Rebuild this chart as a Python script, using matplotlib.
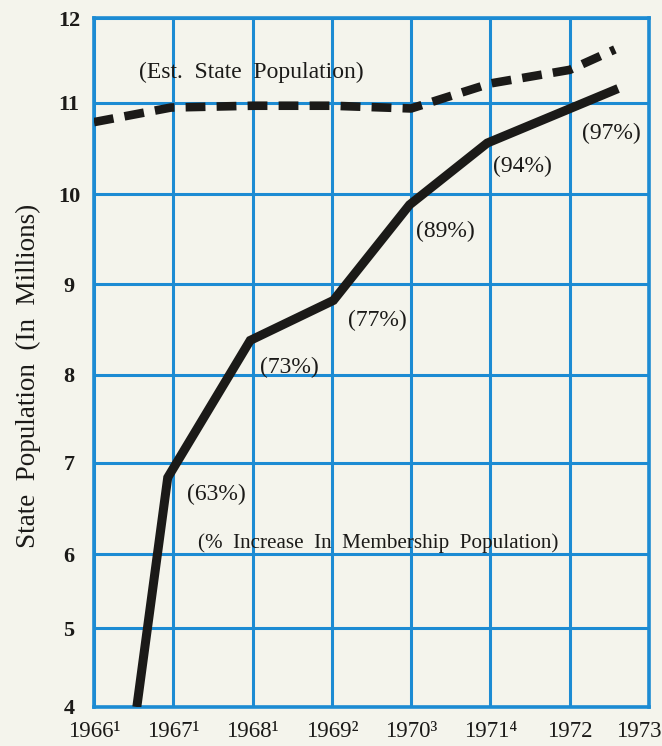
import numpy as np
import matplotlib
matplotlib.use('Agg')
import matplotlib.pyplot as plt
import matplotlib.transforms as mtransforms

# x axis: years, some with footnote marks
years = [1966, 1967, 1968, 1969, 1970, 1971, 1972, 1973]
year_labels = ['1966¹', '1967¹', '1968¹', '1969²', '1970³', '1971⁴', '1972', '1973']

# Est. state population (dashed line), millions
est_x = [1966.0, 1966.97, 1968.0, 1969.0, 1970.0, 1971.0, 1972.0, 1972.57]
est_y = [10.79, 10.95, 10.97, 10.97, 10.94, 11.23, 11.39, 11.63]

# membership line (solid)
mem_x = [1966.54, 1966.93, 1967.97, 1969.02, 1969.98, 1970.96, 1972.61]
mem_y = [4.0, 6.84, 8.38, 8.82, 9.88, 10.56, 11.17]

# % increase labels along the solid line
pct_labels = ['(63%)', '(73%)', '(77%)', '(89%)', '(94%)', '(97%)']
pct_x = [1967.54, 1968.46, 1969.57, 1970.43, 1971.41, 1972.53]
pct_y = [6.65, 8.08, 8.60, 9.58, 10.30, 10.66]

y_levels = [4, 5, 6, 7, 8, 9, 10, 11, 12]

# the printed grid is hand ruled, rows are not evenly spaced
row_offsets = np.array([0, 79, 153, 244, 332, 423, 513, 604, 689], dtype=float)

def fwd(v):
    return np.interp(v, y_levels, row_offsets)

def inv(t):
    return np.interp(t, row_offsets, y_levels)

paper = '#f4f4ec'
blue = '#1c8bd3'
ink = '#1b1a18'
serif = ['Liberation Serif', 'DejaVu Serif']

plt.rcParams['font.family'] = serif

fig = plt.figure(figsize=(6.62, 7.46), dpi=100, facecolor=paper)
ax = fig.add_axes([94 / 662, 1 - 707 / 746, 555 / 662, 689 / 746])
ax.set_facecolor(paper)

ax.set_yscale('function', functions=(fwd, inv))
ax.set_xlim(years[0], years[-1])
ax.set_ylim(4, 12)

ax.set_xticks(years)
ax.set_xticklabels(year_labels, fontsize=16.5, color=ink)
ax.set_yticks(y_levels)
ax.set_yticklabels([str(v) for v in y_levels], fontsize=16, fontweight='bold', color=ink)
ax.yaxis.set_minor_locator(matplotlib.ticker.NullLocator())
ax.tick_params(axis='both', length=0)
ax.tick_params(axis='x', pad=10)
ax.tick_params(axis='y', pad=18)
for lab in ax.get_yticklabels():
    lab.set_horizontalalignment('center')

# nudge the last year label in from the edge
last = ax.get_xticklabels()[-1]
last.set_transform(last.get_transform() + mtransforms.ScaledTranslation(-0.1, 0, fig.dpi_scale_trans))

ax.grid(True, color=blue, linewidth=2.2)
ax.set_axisbelow(True)
for sp in ax.spines.values():
    sp.set_color(blue)
    sp.set_linewidth(2.6)

ax.plot(est_x, est_y, color=ink, linewidth=6.2, linestyle=(0, (2.3, 1.3)),
        dash_capstyle='butt', solid_joinstyle='miter', zorder=3)
ax.plot(mem_x, mem_y, color=ink, linewidth=6.5, solid_joinstyle='miter',
        solid_capstyle='butt', zorder=3)

for lab, x, y in zip(pct_labels, pct_x, pct_y):
    ax.text(x, y, lab, fontsize=17, color=ink, ha='center', va='center', zorder=4)

ax.text(1967.98, 11.36, '(Est.  State  Population)', fontsize=17, color=ink,
        ha='center', va='center', zorder=4)
ax.text(1969.58, 6.12, '(%  Increase  In  Membership  Population)', fontsize=15.2,
        color=ink, ha='center', va='center', zorder=4)

ax.set_ylabel('State  Population  (In  Millions)', fontsize=19.5, color=ink)
ax.yaxis.set_label_coords(-0.095, 0.48)

fig.savefig('out.png', dpi=100, facecolor=paper)
